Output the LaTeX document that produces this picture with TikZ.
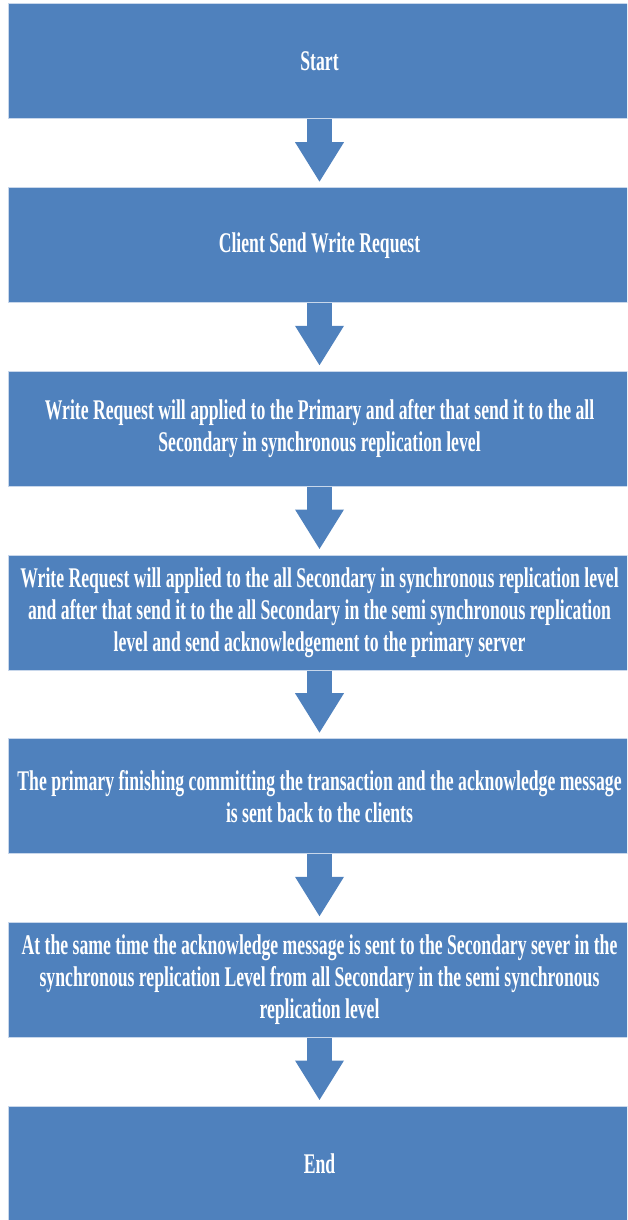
\documentclass[tikz,border=0pt]{standalone}
\usepackage{fontspec}
\usetikzlibrary{arrows.meta}
\newfontfamily\stepfont[FakeStretch=0.62]{Liberation Serif Bold}
\definecolor{boxblue}{RGB}{79,129,189}
\definecolor{boxedge}{RGB}{200,215,235}
\tikzset{
  stepbox/.style={rectangle, fill=boxblue, draw=boxedge, line width=1pt,
    minimum width=623pt, minimum height=115pt, inner sep=0pt,
    align=center, text=white, font=\stepfont\fontsize{28.5}{32}\selectfont},
  flowarrow/.style={draw=boxblue, line width=25pt,
    -{Triangle[width=46pt,length=40pt]}, shorten >=5pt}
}
\begin{document}
\begin{tikzpicture}[x=1pt,y=-1pt]
\useasboundingbox (0,0) rectangle (627,1220);
\clip (0,0) rectangle (627,1220);
\node[stepbox] (s1) at (319.5,61.5) {Start};
\node[stepbox] (s2) at (319.5,245.2) {Client Send Write Request};
\node[stepbox] (s3) at (319.5,428.8) {Write Request will applied to the Primary and after that send it to the all\\Secondary in synchronous replication level};
\node[stepbox] (s4) at (319.5,612.5) {Write Request will applied to the all Secondary in synchronous replication level\\and after that send it to the all Secondary in the semi synchronous replication\\level and send acknowledgement to the primary server};
\node[stepbox] (s5) at (319.5,796.2) {The primary finishing committing the transaction and the acknowledge message\\is sent back to the clients};
\node[stepbox] (s6) at (319.5,979.8) {At the same time the acknowledge message is sent to the Secondary sever in the\\synchronous replication Level from all Secondary in the semi synchronous\\replication level};
\node[stepbox] (s7) at (319.5,1163.5) {End};
\foreach \a/\b in {s1/s2,s2/s3,s3/s4,s4/s5,s5/s6,s6/s7}
  \draw[flowarrow] (\a.south) -- (\b.north);
\end{tikzpicture}
\end{document}
